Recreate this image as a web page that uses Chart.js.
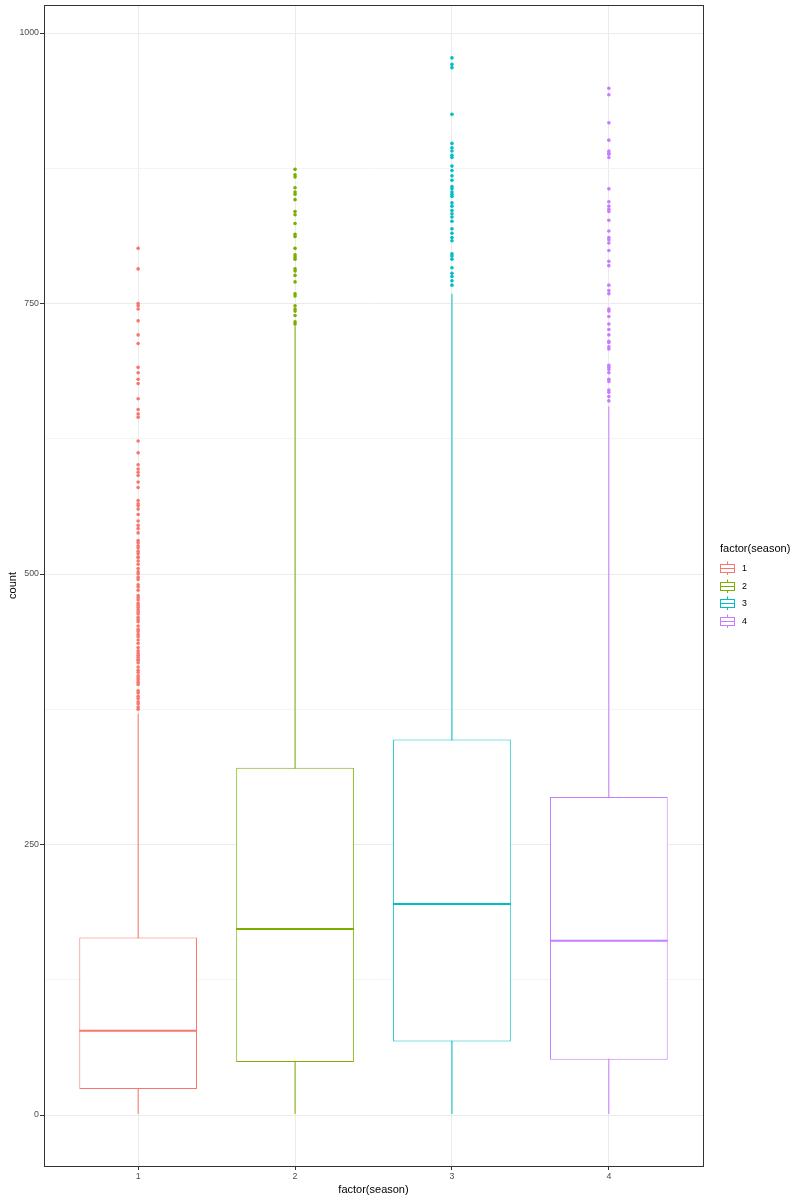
<!DOCTYPE html>
<html>
<head>
<meta charset="utf-8">
<script src="https://cdn.jsdelivr.net/npm/chart.js@4.4.0/dist/chart.umd.min.js"></script>
<style>
html,body{margin:0;padding:0;background:#ffffff;}
#wrap{position:relative;width:800px;height:1200px;}
#c{position:absolute;left:0;top:0;}
.lg{position:absolute;font-family:"Liberation Sans",Arial,sans-serif;color:#000;white-space:nowrap;}
.lgTitle{font-size:11px;line-height:13px;}
.lgItem{font-size:8.8px;line-height:16px;height:16px;}
.lgItem svg{position:absolute;left:0;top:0;}
.lgItem span{position:absolute;left:22px;top:0;}
</style>
</head>
<body>
<div id="wrap">
  <canvas id="c" width="800" height="1200"></canvas>
  <div id="legend"></div>
</div>
<script>
// ---------- data ----------
const seasons = [1, 2, 3, 4];
const seasonLabels = ['1', '2', '3', '4'];
const yTicks = [0, 250, 500, 750, 1000];
const yMinorTicks = [125, 375, 625, 875];
const whiskerLow = [1, 1, 1, 1];
const q1 = [24, 49, 68, 51];
const medians = [78, 172, 195, 161];
const q3 = [164, 321, 347, 294];
const whiskerHigh = [371, 729, 759, 655];
const outliers1 = [801, 782, 750, 748, 745, 734, 721, 713, 691, 686, 680, 676, 662, 652, 648, 645, 623, 612, 601, 597, 594, 591,
  585, 580, 568, 565, 563, 560, 555, 549, 545, 542, 538, 531, 529, 526, 524, 521, 519, 516, 515, 512, 509, 505, 502, 500, 497, 495,
  490, 488, 485, 480, 478, 476, 473, 471, 469, 467, 465, 463, 460, 458, 456, 452, 449, 447, 444, 442, 439, 436, 432, 429, 427, 425,
  423, 421, 420, 418, 414, 411, 409, 406, 404, 402, 400, 398, 392, 390, 387, 385, 382, 380, 377, 375];
const outliers2 = [874, 869, 867, 857, 853, 851, 846, 835, 832, 824, 814, 812, 801, 795, 793, 791, 782, 780, 776, 770, 759, 757,
  748, 745, 743, 739, 733, 731];
const outliers3 = [977, 971, 968, 925, 898, 894, 891, 887, 885, 877, 873, 868, 864, 858, 856, 853, 851, 849, 843, 840, 836, 833,
  830, 826, 819, 815, 811, 808, 796, 794, 791, 783, 778, 775, 771, 767];
const outliers4 = [949, 943, 917, 901, 891, 889, 888, 885, 856, 844, 840, 837, 835, 827, 817, 811, 809, 806, 799, 789, 785, 767,
  762, 759, 745, 743, 738, 731, 726, 721, 715, 714, 710, 708, 693, 691, 689, 686, 680, 678, 670, 668, 664, 660];
const outliers = [outliers1, outliers2, outliers3, outliers4];
const xTitle = 'factor(season)';
const yTitle = 'count';
const legendTitle = 'factor(season)';

// ---------- styles / geometry ----------
const colors = ['#F8766D', '#7CAE00', '#00BFC4', '#C77CFF'];
const FONT = '"Liberation Sans", Arial, sans-serif';
const BOX_WIDTH = 0.75; // fraction of one category slot (ggplot default)

const datasets = [];
seasons.forEach((s, i) => {
  datasets.push({
    type: 'line',
    data: [{x: s, y: whiskerLow[i]}, {x: s, y: whiskerHigh[i]}],
    borderColor: colors[i], borderWidth: 1, pointRadius: 0, fill: false, order: 4
  });
});
datasets.push({
  type: 'bar',
  data: seasons.map((s, i) => ({x: s, y: [q1[i], q3[i]]})),
  backgroundColor: '#ffffff', borderColor: colors, borderWidth: 1, borderSkipped: false,
  categoryPercentage: 1, barPercentage: BOX_WIDTH, order: 3
});
seasons.forEach((s, i) => {
  datasets.push({
    type: 'line',
    data: [{x: s - BOX_WIDTH / 2, y: medians[i]}, {x: s + BOX_WIDTH / 2, y: medians[i]}],
    borderColor: colors[i], borderWidth: 2, pointRadius: 0, fill: false, order: 2
  });
});
outliers.forEach((arr, i) => {
  datasets.push({
    type: 'line',
    data: arr.map(v => ({x: seasons[i], y: v})),
    showLine: false, pointRadius: 1.8, pointBackgroundColor: colors[i], pointBorderWidth: 0, order: 1
  });
});

const panelBorder = {
  id: 'panelBorder',
  afterDraw(chart) {
    const {ctx, chartArea: a} = chart;
    ctx.save();
    ctx.strokeStyle = '#333333';
    ctx.lineWidth = 1;
    ctx.strokeRect(a.left + 0.5, a.top + 0.5, a.right - a.left, a.bottom - a.top);
    ctx.restore();
  }
};

const yMin = -47.1, yMax = 1025.9;

new Chart(document.getElementById('c'), {
  type: 'bar',
  data: {datasets},
  plugins: [panelBorder],
  options: {
    responsive: false,
    animation: false,
    events: [],
    layout: {padding: {left: 0, top: 5, right: 97, bottom: 0}},
    plugins: {legend: {display: false}, tooltip: {enabled: false}},
    scales: {
      x: {
        type: 'linear', min: 0.4, max: 4.6, offset: false,
        afterBuildTicks: sc => { sc.ticks = seasons.map(v => ({value: v})); },
        afterFit: sc => { sc.height = 34; sc.paddingLeft = 0; sc.paddingRight = 0; },
        ticks: {
          callback: (v) => seasonLabels[seasons.indexOf(v)],
          color: '#4d4d4d', font: {family: FONT, size: 8.8}, padding: 1, maxRotation: 0, autoSkip: false
        },
        grid: {color: '#ebebeb', lineWidth: 1, tickColor: '#333333', tickLength: 4, drawTicks: true, offset: false},
        border: {display: false},
        title: {display: true, text: xTitle, color: '#000000', font: {family: FONT, size: 11}, padding: {top: 0, bottom: 3}}
      },
      y: {
        type: 'linear', min: yMin, max: yMax,
        afterBuildTicks: sc => {
          sc.ticks = yTicks.concat(yMinorTicks).sort((a, b) => a - b).map(v => ({value: v}));
        },
        afterFit: sc => { sc.width = 44; sc.paddingTop = 0; sc.paddingBottom = 0; },
        ticks: {
          callback: (v) => yTicks.includes(v) ? String(v) : '',
          color: '#4d4d4d', font: {family: FONT, size: 8.8}, padding: 1, autoSkip: false
        },
        grid: {
          color: c => yTicks.includes(c.tick.value) ? '#ebebeb' : '#f4f4f4',
          tickColor: c => yTicks.includes(c.tick.value) ? '#333333' : 'rgba(0,0,0,0)',
          lineWidth: 1, tickLength: 4, drawTicks: true
        },
        border: {display: false},
        title: {display: true, text: yTitle, color: '#000000', font: {family: FONT, size: 11}, padding: {top: 6, bottom: 0}}
      }
    }
  }
});

// ---------- legend (HTML) ----------
const lg = document.getElementById('legend');
const t = document.createElement('div');
t.className = 'lg lgTitle';
t.style.left = '720px';
t.style.top = '542px';
t.textContent = legendTitle;
lg.appendChild(t);
const rowTops = [560, 577.5, 595, 612.5];
seasonLabels.forEach((lab, i) => {
  const d = document.createElement('div');
  d.className = 'lg lgItem';
  d.style.left = '720px';
  d.style.top = rowTops[i] + 'px';
  d.style.width = '40px';
  d.innerHTML = '<svg width="16" height="16" viewBox="0 0 16 16">' +
    '<line x1="7.5" y1="1.5" x2="7.5" y2="15" stroke="' + colors[i] + '" stroke-width="1"/>' +
    '<rect x="0.5" y="4.5" width="14" height="8" fill="#ffffff" stroke="' + colors[i] + '" stroke-width="1"/>' +
    '<line x1="0.5" y1="8.5" x2="14.5" y2="8.5" stroke="' + colors[i] + '" stroke-width="1"/>' +
    '</svg><span>' + lab + '</span>';
  lg.appendChild(d);
});
</script>
</body>
</html>
